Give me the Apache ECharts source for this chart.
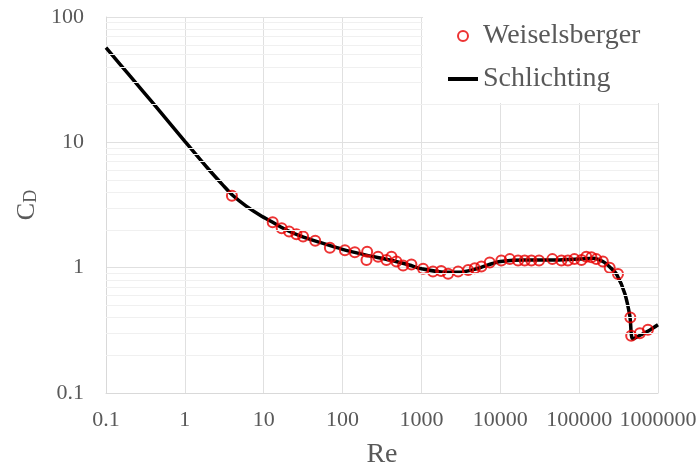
<!DOCTYPE html>
<html>
<head>
<meta charset="utf-8">
<script src="https://cdn.jsdelivr.net/npm/echarts@6/dist/echarts.min.js"></script>
<style>
  html, body { margin: 0; padding: 0; background: #fff; }
  #chart { width: 700px; height: 466px; }
</style>
</head>
<body>
<div id="chart"></div>
<script>
// Weiselsberger measurements
const weisRe = [3.95, 13, 16.9, 21, 26, 31.6, 45, 69, 107, 143, 205, 201, 282, 360, 417, 482, 586, 747,
  1050, 1400, 1780, 2180, 2920, 3910, 4750, 5760, 7350, 10300, 13200, 16800, 20400, 24800, 31000,
  45700, 59600, 72000, 87000, 107000, 123000, 143000, 165000, 200000, 244000, 311000, 446000,
  457000, 588000, 745000];
const weisCd = [3.75, 2.3, 2.06, 1.94, 1.85, 1.77, 1.64, 1.44, 1.38, 1.33, 1.34, 1.15, 1.22, 1.15, 1.22, 1.12, 1.04, 1.06,
  0.98, 0.93, 0.94, 0.895, 0.93, 0.96, 0.99, 1.02, 1.1, 1.14, 1.17, 1.14, 1.14, 1.14, 1.14,
  1.17, 1.14, 1.14, 1.17, 1.15, 1.22, 1.21, 1.17, 1.12, 1.0, 0.89, 0.4,
  0.286, 0.3, 0.32];

// Schlichting curve
const schRe = [0.1, 0.2, 0.3, 0.5, 1, 2, 3, 4, 6, 9, 13, 20, 30, 50, 100, 200, 400, 700, 1000, 2000, 3000,
  5000, 8000, 10000, 20000, 50000, 100000, 150000, 200000, 250000, 300000, 380000, 440000, 480000,
  600000, 800000, 1000000];
const schCd = [57, 34, 25.2, 17.2, 10.2, 6.1, 4.6, 3.8, 3.1, 2.62, 2.3, 1.98, 1.78, 1.6, 1.4, 1.26, 1.15, 1.05, 0.98, 0.92, 0.92,
  0.98, 1.08, 1.12, 1.15, 1.15, 1.17, 1.19, 1.12, 1.0, 0.88, 0.62, 0.41, 0.27,
  0.29, 0.32, 0.35];

const xTickLabels = ['0.1', '1', '10', '100', '1000', '10000', '100000', '1000000'];
const yTickLabels = ['0.1', '1', '10', '100'];
const yMinorLines = [0.2, 0.3, 0.4, 0.5, 0.6, 0.7, 0.8, 0.9, 2, 3, 4, 5, 6, 7, 8, 9, 20, 30, 40, 50, 60, 70, 80, 90];

const font = 'Liberation Serif';
const grey = '#595959';

const chart = echarts.init(document.getElementById('chart'));
chart.setOption({
  animation: false,
  grid: { left: 106, right: 42, top: 17, bottom: 73, outerBoundsMode: 'none', containLabel: false },
  legend: {
    orient: 'vertical',
    left: 423,
    top: 8,
    z: 20,
    padding: [14, 30, 10, 25],
    backgroundColor: '#fff',
    itemWidth: 30,
    itemHeight: 10,
    itemGap: 15,
    textStyle: { fontFamily: font, fontSize: 28, color: grey },
    data: [
      { name: 'Weiselsberger' },
      { name: 'Schlichting', icon: 'path://M0,0H30V4H0Z' }
    ]
  },
  xAxis: {
    type: 'log',
    logBase: 10,
    min: 0.1,
    max: 1000000,
    name: 'Re',
    nameLocation: 'middle',
    nameGap: 48,
    nameTextStyle: { fontFamily: font, fontSize: 28, color: grey },
    axisLine: { lineStyle: { color: '#d9d9d9' } },
    axisTick: { show: false },
    axisLabel: {
      fontFamily: font, fontSize: 22, color: grey, margin: 16,
      formatter: v => xTickLabels[Math.round(Math.log10(v)) + 1]
    },
    splitLine: { show: true, lineStyle: { color: '#e0e0e0' } }
  },
  yAxis: {
    type: 'log',
    logBase: 10,
    min: 0.1,
    max: 100,
    name: '{a|C}{b|D}',
    nameLocation: 'middle',
    nameGap: 61,
    nameTextStyle: {
      rich: {
        a: { fontFamily: font, fontSize: 26, lineHeight: 26, color: grey },
        b: { fontFamily: font, fontSize: 18, lineHeight: 18, color: grey, verticalAlign: 'bottom', padding: [20, 0, 0, 0] }
      }
    },
    axisLine: { show: true, lineStyle: { color: '#d9d9d9' } },
    axisTick: { show: false },
    axisLabel: {
      fontFamily: font, fontSize: 22, color: grey, margin: 22,
      formatter: v => yTickLabels[Math.round(Math.log10(v)) + 1]
    },
    splitLine: { show: true, lineStyle: { color: '#e0e0e0' } }
  },
  series: [
    {
      name: 'minor',
      type: 'line',
      data: [],
      z: 1,
      markLine: {
        silent: true,
        symbol: 'none',
        label: { show: false },
        lineStyle: { color: '#f0f0f0', width: 1, type: 'solid' },
        data: yMinorLines.map(v => ({ yAxis: v }))
      }
    },
    {
      name: 'Schlichting',
      type: 'line',
      z: 2,
      data: schRe.map((r, i) => [r, schCd[i]]),
      showSymbol: false,
      symbol: 'none',
      smooth: 0.3,
      lineStyle: { color: '#000', width: 3.5 },
      itemStyle: { color: '#000' }
    },
    {
      name: 'Weiselsberger',
      type: 'scatter',
      z: 3,
      data: weisRe.map((r, i) => [r, weisCd[i]]),
      symbol: 'circle',
      symbolSize: 10,
      itemStyle: { color: 'rgba(255,255,255,0)', borderColor: '#e80000', borderWidth: 2 }
    }
  ]
});
</script>
</body>
</html>
